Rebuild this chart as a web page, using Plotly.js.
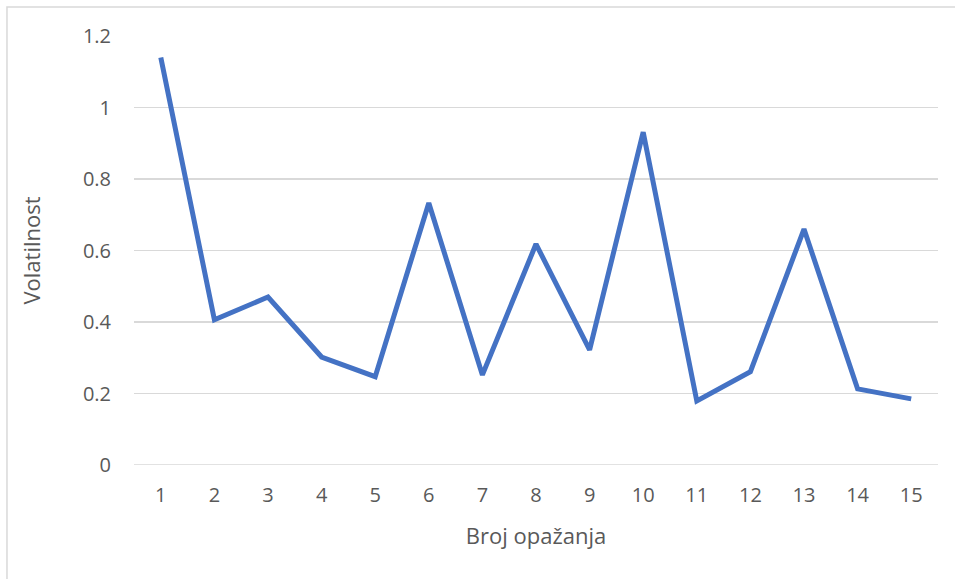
<!DOCTYPE html>
<html><head><meta charset="utf-8">
<script src="https://cdn.plot.ly/plotly-3.0.1.min.js"></script>
<style>html,body{margin:0;padding:0;background:#fff;}#chart{width:955px;height:579px;}</style>
</head><body><div id="chart"></div>
<script>
const categories = ["1","2","3","4","5","6","7","8","9","10","11","12","13","14","15"];
const volatilnost = [1.14, 0.406, 0.47, 0.302, 0.247, 0.733, 0.252, 0.618, 0.322, 0.931, 0.179, 0.261, 0.66, 0.213, 0.185];
const yTicks = [0, 0.2, 0.4, 0.6, 0.8, 1, 1.2];
const yTickLabels = ["0", "0.2", "0.4", "0.6", "0.8", "1", "1.2"];

const font = {family: "Open Sans, Liberation Sans, sans-serif", color: "#595959"};
Plotly.newPlot("chart", [{
  x: categories, y: volatilnost, type: "scatter", mode: "lines",
  line: {color: "#4472C4", width: 5}, hoverinfo: "skip"
}], {
  width: 955, height: 579,
  margin: {l: 134, r: 17, t: 36, b: 114},
  paper_bgcolor: "#fff", plot_bgcolor: "#fff",
  showlegend: false,
  xaxis: {type: "category", range: [-0.5, 14.5], showgrid: false, zeroline: false, showline: false,
    ticks: "", tickfont: Object.assign({size: 20}, font), ticklabelstandoff: 16,
    title: {text: "Broj opažanja", font: Object.assign({size: 22}, font), standoff: 21}},
  yaxis: {range: [0, 1.2], tickvals: yTicks, ticktext: yTickLabels, showgrid: true, gridcolor: "#d9d9d9", gridwidth: 1.5,
    zeroline: false, showline: false, ticks: "", tickfont: Object.assign({size: 20}, font), ticklabelstandoff: 22,
    title: {text: "Volatilnost", font: Object.assign({size: 22}, font), standoff: 36}},
  shapes: [{type: "rect", xref: "paper", yref: "paper", x0: -0.158, x1: 2, y0: -1, y1: 1.0676,
    line: {color: "#d9d9d9", width: 1.5}, fillcolor: "rgba(0,0,0,0)", layer: "below"},
    {type: "line", xref: "paper", yref: "y", x0: 0, x1: 1, y0: 0, y1: 0, line: {color: "#d9d9d9", width: 1.5}, layer: "below"}]
}, {staticPlot: true});
</script></body></html>
